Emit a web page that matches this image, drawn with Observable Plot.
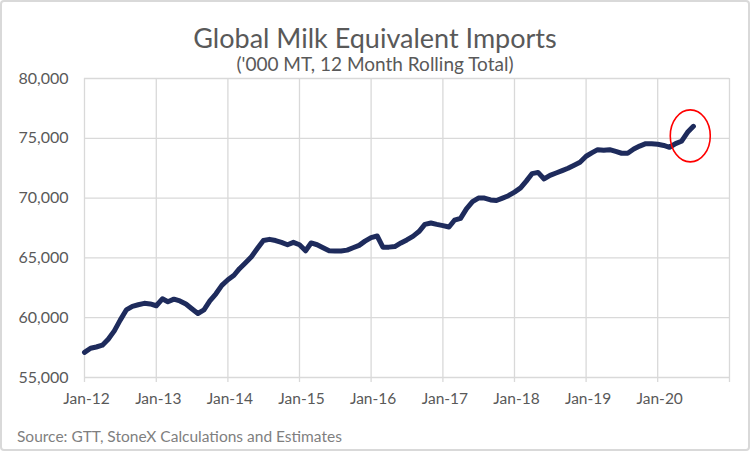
<!DOCTYPE html>
<html>
<head>
<meta charset="utf-8">
<script src="https://cdn.jsdelivr.net/npm/d3@7"></script>
<script src="https://cdn.jsdelivr.net/npm/@observablehq/plot@0.6"></script>
<style>
  html, body { margin: 0; padding: 0; background: #fff; }
  #frame {
    position: relative; width: 750px; height: 451px; box-sizing: border-box;
    box-shadow: inset 0 0 0 2px #d9d9d9; border-radius: 4px; overflow: hidden;
    font-family: Lato, "Open Sans", sans-serif; color: #595959;
  }
  #title { position: absolute; left: 0; width: 750px; top: 22px; text-align: center; font-size: 27px; line-height: 32px; }
  #subtitle { position: absolute; left: 0; width: 750px; top: 53px; text-align: center; font-size: 19px; line-height: 22px; }
  #chart { position: absolute; left: 0; top: 70px; }
  #caption { position: absolute; left: 17px; top: 427px; font-size: 15.5px; line-height: 18px; color: #7f7f7f; }
</style>
</head>
<body>
<div id="frame">
  <div id="title">Global Milk Equivalent Imports</div>
  <div id="subtitle">('000 MT, 12 Month Rolling Total)</div>
  <div id="chart"></div>
  <div id="caption">Source: GTT, StoneX Calculations and Estimates</div>
</div>
<script>
// Monthly 12-month rolling total, '000 MT, starting Jan-2012
const startYear = 2012;
const imports = [
  // 2012
  57100, 57450, 57550, 57700, 58200, 58900, 59800, 60650, 60950, 61080, 61200, 61150,
  // 2013
  61000, 61580, 61330, 61550, 61400, 61150, 60750, 60350, 60650, 61400, 62000, 62700,
  // 2014
  63170, 63550, 64100, 64600, 65100, 65800, 66450, 66550, 66450, 66300, 66100, 66300,
  // 2015
  66100, 65600, 66250, 66100, 65850, 65600, 65580, 65580, 65650, 65850, 66050, 66400,
  // 2016
  66700, 66830, 65900, 65900, 65950, 66250, 66500, 66800, 67200, 67800, 67920, 67800,
  // 2017
  67700, 67580, 68150, 68300, 69100, 69700, 70000, 70000, 69850, 69800, 70000, 70200,
  // 2018
  70500, 70850, 71400, 72050, 72150, 71600, 71900, 72100, 72300, 72500, 72750, 73000,
  // 2019
  73500, 73800, 74050, 74000, 74050, 73900, 73750, 73750, 74100, 74350, 74550, 74550,
  // 2020
  74500, 74400, 74250, 74550, 74750, 75500, 76000
];
const xTickYears = [2012, 2013, 2014, 2015, 2016, 2017, 2018, 2019, 2020];
const xTickLabels = ["Jan-12", "Jan-13", "Jan-14", "Jan-15", "Jan-16", "Jan-17", "Jan-18", "Jan-19", "Jan-20"];
const gridYears = [2012, 2013, 2014, 2015, 2016, 2017, 2018, 2019, 2020, 2021];
const yTicks = [55000, 60000, 65000, 70000, 75000, 80000];
// annotation circle around the latest readings
const highlight = [{year: 2020, month: 5, day: 15, value: 75200}];

const data = imports.map((v, i) => ({date: new Date(Date.UTC(startYear, i, 1)), value: v}));
const jan = y => new Date(Date.UTC(y, 0, 1));
const labelOf = new Map(xTickYears.map((y, i) => [+jan(y), xTickLabels[i]]));
const hl = highlight.map(d => ({date: new Date(Date.UTC(d.year, d.month, d.day)), value: d.value}));

const ellipse = {
  draw(ctx) {
    const rx = 20, ry = 26, k = 0.5523;
    ctx.moveTo(rx, 0);
    ctx.bezierCurveTo(rx, ry * k, rx * k, ry, 0, ry);
    ctx.bezierCurveTo(-rx * k, ry, -rx, ry * k, -rx, 0);
    ctx.bezierCurveTo(-rx, -ry * k, -rx * k, -ry, 0, -ry);
    ctx.bezierCurveTo(rx * k, -ry, rx, -ry * k, rx, 0);
    ctx.closePath();
  }
};

const chart = Plot.plot({
  width: 750,
  height: 350,
  marginLeft: 84,
  marginRight: 21,
  marginTop: 8,
  marginBottom: 43,
  style: {fontFamily: "Lato, 'Open Sans', sans-serif", fontSize: "15px", color: "#595959", background: "transparent", overflow: "visible"},
  x: {type: "utc", domain: [jan(2012), jan(2021)]},
  y: {domain: [55000, 80000]},
  marks: [
    Plot.gridY(yTicks, {stroke: "#d9d9d9", strokeOpacity: 1, strokeWidth: 1.3}),
    Plot.gridX(gridYears.map(jan), {stroke: "#d9d9d9", strokeOpacity: 1, strokeWidth: 1.3}),
    Plot.axisY(yTicks, {tickSize: 0, tickPadding: 16, tickFormat: d3.format(","), fontSize: 16, fill: "#595959", label: null}),
    Plot.axisX(gridYears.map(jan), {tickSize: 5, tickPadding: 12, stroke: "#d9d9d9", strokeWidth: 1.3, tickFormat: () => "", label: null}),
    Plot.text(xTickYears.map(jan), {x: d => d, frameAnchor: "bottom", dy: 26, dx: 2, text: d => labelOf.get(+d), fontSize: 15.5, fill: "#595959"}),
    Plot.line(data, {x: "date", y: "value", stroke: "#1e2b5c", strokeWidth: 5, strokeLinejoin: "round", strokeLinecap: "round"}),
    Plot.dot(hl, {x: "date", y: "value", symbol: ellipse, r: 20, stroke: "#ff0000", strokeWidth: 1.6, fill: "none"})
  ]
});
document.getElementById("chart").appendChild(chart);
</script>
</body>
</html>
